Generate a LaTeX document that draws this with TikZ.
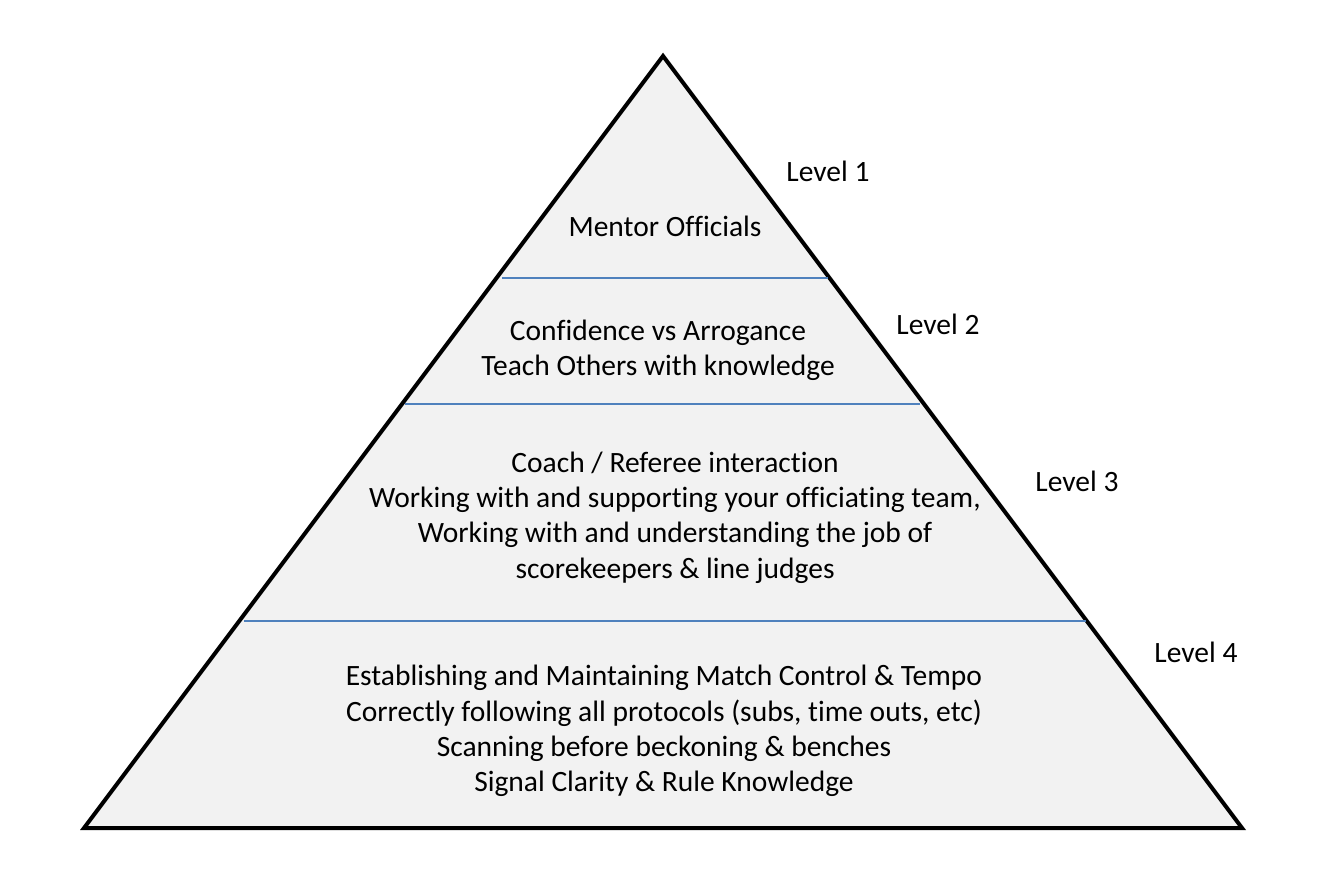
\documentclass[tikz,border=0pt]{standalone}
\usepackage{fontspec}
\setmainfont{Carlito}[Ligatures=CommonOff]
\definecolor{fillgray}{HTML}{F2F2F2}
\definecolor{divblue}{HTML}{4F81BD}
\begin{document}
\begin{tikzpicture}[x=1pt,y=-1pt,
  txt/.style={font=\fontsize{29.5}{35.3}\selectfont, align=center, inner sep=0pt},
  divider/.style={draw=divblue, line width=2pt},
  pyramid/.style={draw=black, line width=4pt, fill=fillgray, line join=miter}]
\useasboundingbox (0,0) rectangle (1343,877);
\coordinate (apex) at (663,56);
\coordinate (bl) at (84,828);
\coordinate (br) at (1242,828);
\draw[pyramid] (apex) -- (br) -- (bl) -- cycle;
\coordinate (d1l) at (502,277.5);
\coordinate (d1r) at (828,277.5);
\coordinate (d2l) at (405,403.5);
\coordinate (d2r) at (920,403.5);
\coordinate (d3l) at (244,621);
\coordinate (d3r) at (1086,621);
\draw[divider] (d1l) -- (d1r);
\draw[divider] (d2l) -- (d2r);
\draw[divider] (d3l) -- (d3r);
\node[txt] (b1) at (665,226) {Mentor Officials};
\node[txt] (b2) at (658,350) {Confidence vs Arrogance\\Teach Others with knowledge};
\node[txt] (b3) at (675,517.5) {Coach / Referee interaction\\Working with and supporting your officiating team,\\Working with and understanding the job of\\scorekeepers \& line judges};
\node[txt] (b4) at (664,731) {Establishing and Maintaining Match Control \& Tempo\\Correctly following all protocols (subs, time outs, etc)\\Scanning before beckoning \& benches\\Signal Clarity \& Rule Knowledge};
\node[txt] (l1) at (828,171) {Level 1};
\node[txt] (l2) at (938,324) {Level 2};
\node[txt] (l3) at (1077,481) {Level 3};
\node[txt] (l4) at (1196,652) {Level 4};
\end{tikzpicture}
\end{document}
